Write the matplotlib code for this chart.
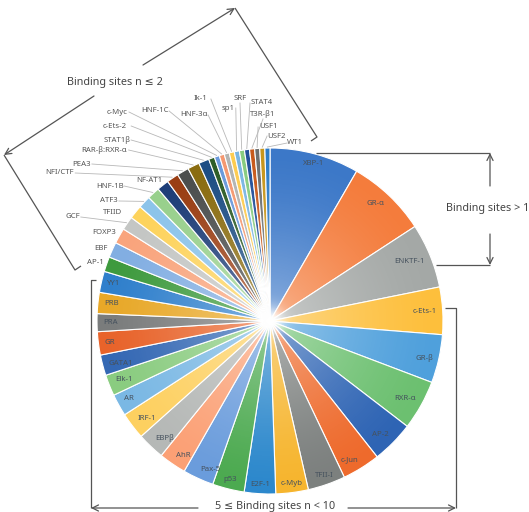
import numpy as np
import matplotlib
matplotlib.use("Agg")
import matplotlib.pyplot as plt
from matplotlib.patches import Circle

# slice shares (clockwise from 12 o'clock)
big_labels = ["XBP-1", "GR-α", "ENKTF-1"]
big_values = [30.0, 26.8, 21.7]

mid_labels = ["c-Ets-1", "GR-β", "RXR-α", "AP-2", "c-Jun", "TFII-I", "c-Myb",
              "E2F-1", "p53", "Pax-5", "AhR", "EBPβ", "IRF-1", "AR", "Elk-1",
              "GATA1", "GR", "PRA", "PRB", "YY1"]
mid_values = [15.9, 16.2, 16.7, 14.2, 12.8, 12.6, 10.9, 10.5, 10.7, 10.4, 9.2,
              9.2, 9.0, 7.4, 7.1, 6.9, 7.8, 6.0, 7.1, 7.1]

small_labels = ["AP-1", "EBF", "FOXP3", "GCF", "TFIID", "ATF3", "HNF-1B",
                "NF-AT1", "NFI/CTF", "PEA3", "RAR-β:RXR-α", "STAT1β", "c-Ets-2",
                "c-Myc", "HNF-1C", "HNF-3α", "Ik-1", "sp1", "SRF", "STAT4",
                "T3R-β1", "USF1", "USF2", "WT1"]
small_values = [5.0, 5.2, 5.2, 4.6, 4.6, 4.2, 4.2, 4.0, 4.0, 4.0, 4.0, 3.5, 2.0,
                1.7, 1.7, 1.7, 1.7, 1.7, 1.7, 1.7, 1.7, 1.7, 1.7, 1.7]

colors = ["#3c78c8", "#f47c3c", "#a4a8a6",
          "#fdbf3c", "#4fa0dc", "#6cc070", "#2e64b4", "#ee6a2c", "#7c807e",
          "#f6b52e", "#2c88cc", "#4caa50", "#6a9cdc", "#fba075", "#b5b8b6",
          "#fdd060", "#7ab8e4", "#8acc80", "#3468b4", "#e8632a", "#7a7c7c",
          "#e8a828", "#2f7fcc",
          "#3e9a3e", "#82aee2", "#f9a47c", "#c4c6c4", "#fdd35c", "#8cc4ea",
          "#98d08c", "#1e3e78", "#9a3e14", "#4c4e4e", "#8a6c10", "#1e4e84",
          "#2e5e28", "#6a9adc", "#f49870", "#b2b4b2", "#fdcc50", "#7ab6e2",
          "#88cc80", "#22509a", "#c85a1c", "#6e7070", "#c8961c", "#2c7cc8"]

# outer label text centres (pixel coords of the picture)
small_pos = [(95, 263), (101, 248), (104, 232), (73, 217), (113, 212),
             (109, 201), (110, 186), (149, 180), (59, 173), (82, 164),
             (104, 150), (117, 140), (115, 126), (117, 112), (155, 111),
             (194, 115), (201, 99), (228, 108), (240, 98), (262, 103),
             (263, 114), (268, 127), (277, 136), (295, 143)]

W, H = 529, 512
FONT = ["Noto Sans", "DejaVu Sans"]


def P(x, y):
    return (x, H - y)


fig = plt.figure(figsize=(W / 100, H / 100), dpi=100)
ax = fig.add_axes([0, 0, 1, 1])
ax.axis("off")

cx, cy = P(270, 321)
R = 173

labels = big_labels + mid_labels + small_labels
values = big_values + mid_values + small_values
wedges, _ = ax.pie(values, colors=colors, startangle=90, counterclock=False,
                   center=(cx, cy), radius=R,
                   wedgeprops=dict(edgecolor="white", linewidth=0.8))

# lighter toward the centre, with a white spot in the middle
n = 400
g = np.linspace(-1, 1, n)
xx, yy = np.meshgrid(g, g)
rr = np.sqrt(xx ** 2 + yy ** 2)
glow = np.ones((n, n, 4))
glow[..., 3] = np.clip(0.42 * np.clip(1 - rr, 0, 1) ** 1.5
                       + 0.65 * np.exp(-(rr / 0.08) ** 2), 0, 1)
img = ax.imshow(glow, extent=[cx - R, cx + R, cy - R, cy + R], origin="lower",
                zorder=3, interpolation="bilinear")
img.set_clip_path(Circle((cx, cy), R, transform=ax.transData))

n_in = len(big_labels) + len(mid_labels)
for i, w in enumerate(wedges):
    th = np.deg2rad((w.theta1 + w.theta2) / 2)
    ux, uy = np.cos(th), np.sin(th)
    if i < n_in:
        ha = "right" if ux > 0.35 else ("left" if ux < -0.35 else "center")
        va = "top" if uy > 0.35 else ("bottom" if uy < -0.35 else "center")
        ax.text(cx + 0.965 * R * ux, cy + 0.965 * R * uy, labels[i],
                ha=ha, va=va, fontsize=5.6, color="#46525e", family=FONT,
                zorder=5)
    else:
        tx, ty = P(*small_pos[i - n_in])
        ax.text(tx, ty, labels[i], ha="center", va="center", fontsize=5.6,
                color="#555555", family=FONT, zorder=5)
        rx, ry = cx + (R + 1) * ux, cy + (R + 1) * uy
        half = 2.1 * len(labels[i])
        if tx + half < rx - 2:
            sx, sy = tx + half + 1.5, ty
        elif tx - half > rx + 2:
            sx, sy = tx - half - 1.5, ty
        else:
            sx, sy = tx, ty - 5
        if abs(sx - rx) > 14 or abs(sy - ry) > 6:
            ax.plot([sx, rx], [sy, ry], color="#b8b8b8", lw=0.6, zorder=4)

# brackets and arrows
lc = "#555555"
arw = dict(arrowstyle="->", color=lc, lw=0.9, shrinkA=0, shrinkB=0,
           mutation_scale=11)


def line(pts):
    xs, ys = zip(*[P(x, y) for x, y in pts])
    ax.plot(xs, ys, color=lc, lw=0.9, zorder=4, solid_capstyle="butt")


def arrow(a, b):
    ax.annotate("", xy=P(*b), xytext=P(*a), arrowprops=arw)


# n <= 2
arrow((143, 65), (235, 8))
line([(235, 8), (317, 137), (311, 141)])
arrow((94, 96), (4, 155))
line([(4, 155), (75, 270), (81, 266)])
ax.text(*P(115, 82), "Binding sites n ≤ 2", ha="center", va="center",
        fontsize=7.8, color="#444444", family=FONT)

# > 10
line([(316, 153), (490, 153)])
arrow((490, 186), (490, 153))
line([(436, 265), (490, 265)])
arrow((490, 234), (490, 265))
ax.text(*P(446, 209), "Binding sites > 10", ha="left", va="center",
        fontsize=7.8, color="#444444", family=FONT)

# 5 <= n < 10
line([(445, 308), (456, 308), (456, 508)])
arrow((348, 508), (456, 508))
line([(96, 280), (91, 280), (91, 508)])
arrow((198, 508), (91, 508))
ax.text(*P(275, 507), "5 ≤ Binding sites n < 10", ha="center", va="center",
        fontsize=7.8, color="#444444", family=FONT)

ax.set_xlim(0, W)
ax.set_ylim(0, H)
fig.savefig("out.png", dpi=100, facecolor="white")
